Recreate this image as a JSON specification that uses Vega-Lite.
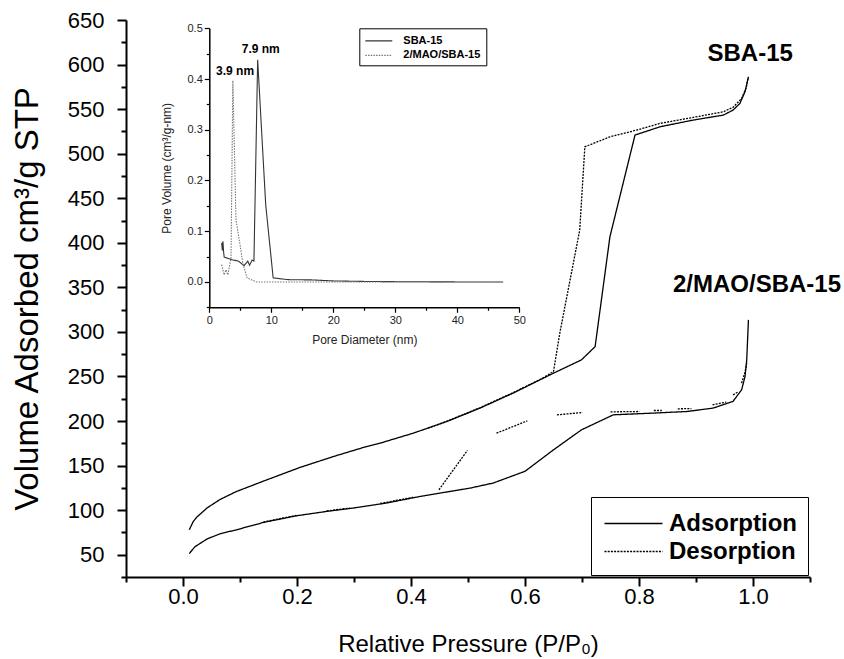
{
  "$schema": "https://vega.github.io/schema/vega-lite/v6.json",
  "width": 684,
  "height": 557,
  "autosize": {"type": "none"},
  "padding": {"left": 126, "top": 20, "right": 34, "bottom": 82},
  "background": "white",
  "config": {
    "font": "Liberation Sans",
    "view": {"stroke": null},
    "axis": {"grid": false, "domainColor": "black", "tickColor": "black", "labelColor": "black", "titleColor": "black", "labelFlush": false, "labelOverlap": false}
  },
  "datasets": {
    "isotherm": [
      {"curve": "SBA-15 ads", "branch": "Adsorption", "p": 0.011, "v": 78},
      {"curve": "SBA-15 ads", "branch": "Adsorption", "p": 0.018, "v": 87.3},
      {"curve": "SBA-15 ads", "branch": "Adsorption", "p": 0.024, "v": 92},
      {"curve": "SBA-15 ads", "branch": "Adsorption", "p": 0.042, "v": 102.4},
      {"curve": "SBA-15 ads", "branch": "Adsorption", "p": 0.065, "v": 112},
      {"curve": "SBA-15 ads", "branch": "Adsorption", "p": 0.094, "v": 121},
      {"curve": "SBA-15 ads", "branch": "Adsorption", "p": 0.147, "v": 134},
      {"curve": "SBA-15 ads", "branch": "Adsorption", "p": 0.205, "v": 147.9},
      {"curve": "SBA-15 ads", "branch": "Adsorption", "p": 0.264, "v": 160.2},
      {"curve": "SBA-15 ads", "branch": "Adsorption", "p": 0.322, "v": 171.4},
      {"curve": "SBA-15 ads", "branch": "Adsorption", "p": 0.346, "v": 175.2},
      {"curve": "SBA-15 ads", "branch": "Adsorption", "p": 0.404, "v": 186.4},
      {"curve": "SBA-15 ads", "branch": "Adsorption", "p": 0.463, "v": 199.5},
      {"curve": "SBA-15 ads", "branch": "Adsorption", "p": 0.521, "v": 214.5},
      {"curve": "SBA-15 ads", "branch": "Adsorption", "p": 0.579, "v": 231.3},
      {"curve": "SBA-15 ads", "branch": "Adsorption", "p": 0.650, "v": 253.7},
      {"curve": "SBA-15 ads", "branch": "Adsorption", "p": 0.699, "v": 268.6},
      {"curve": "SBA-15 ads", "branch": "Adsorption", "p": 0.723, "v": 283.5},
      {"curve": "SBA-15 ads", "branch": "Adsorption", "p": 0.749, "v": 406.8},
      {"curve": "SBA-15 ads", "branch": "Adsorption", "p": 0.793, "v": 520.9},
      {"curve": "SBA-15 ads", "branch": "Adsorption", "p": 0.837, "v": 530.2},
      {"curve": "SBA-15 ads", "branch": "Adsorption", "p": 0.895, "v": 537.7},
      {"curve": "SBA-15 ads", "branch": "Adsorption", "p": 0.948, "v": 543.3},
      {"curve": "SBA-15 ads", "branch": "Adsorption", "p": 0.965, "v": 548.9},
      {"curve": "SBA-15 ads", "branch": "Adsorption", "p": 0.977, "v": 556.4},
      {"curve": "SBA-15 ads", "branch": "Adsorption", "p": 0.986, "v": 569.4},
      {"curve": "SBA-15 ads", "branch": "Adsorption", "p": 0.992, "v": 586.2},

      {"curve": "SBA-15 des", "branch": "Desorption", "p": 0.430, "v": 192},
      {"curve": "SBA-15 des", "branch": "Desorption", "p": 0.463, "v": 199.8},
      {"curve": "SBA-15 des", "branch": "Desorption", "p": 0.521, "v": 214.9},
      {"curve": "SBA-15 des", "branch": "Desorption", "p": 0.579, "v": 231.8},
      {"curve": "SBA-15 des", "branch": "Desorption", "p": 0.630, "v": 247.8},
      {"curve": "SBA-15 des", "branch": "Desorption", "p": 0.650, "v": 255.5},
      {"curve": "SBA-15 des", "branch": "Desorption", "p": 0.661, "v": 298.5},
      {"curve": "SBA-15 des", "branch": "Desorption", "p": 0.696, "v": 414.3},
      {"curve": "SBA-15 des", "branch": "Desorption", "p": 0.705, "v": 507.7},
      {"curve": "SBA-15 des", "branch": "Desorption", "p": 0.749, "v": 518.9},
      {"curve": "SBA-15 des", "branch": "Desorption", "p": 0.796, "v": 526.5},
      {"curve": "SBA-15 des", "branch": "Desorption", "p": 0.837, "v": 534},
      {"curve": "SBA-15 des", "branch": "Desorption", "p": 0.895, "v": 540.7},
      {"curve": "SBA-15 des", "branch": "Desorption", "p": 0.948, "v": 547},
      {"curve": "SBA-15 des", "branch": "Desorption", "p": 0.965, "v": 552},
      {"curve": "SBA-15 des", "branch": "Desorption", "p": 0.980, "v": 562},
      {"curve": "SBA-15 des", "branch": "Desorption", "p": 0.988, "v": 574},
      {"curve": "SBA-15 des", "branch": "Desorption", "p": 0.992, "v": 586.2},

      {"curve": "MAO ads", "branch": "Adsorption", "p": 0.011, "v": 51.3},
      {"curve": "MAO ads", "branch": "Adsorption", "p": 0.021, "v": 59},
      {"curve": "MAO ads", "branch": "Adsorption", "p": 0.042, "v": 67.6},
      {"curve": "MAO ads", "branch": "Adsorption", "p": 0.065, "v": 73.5},
      {"curve": "MAO ads", "branch": "Adsorption", "p": 0.094, "v": 78},
      {"curve": "MAO ads", "branch": "Adsorption", "p": 0.141, "v": 86.2},
      {"curve": "MAO ads", "branch": "Adsorption", "p": 0.199, "v": 93.7},
      {"curve": "MAO ads", "branch": "Adsorption", "p": 0.252, "v": 98.6},
      {"curve": "MAO ads", "branch": "Adsorption", "p": 0.299, "v": 102.4},
      {"curve": "MAO ads", "branch": "Adsorption", "p": 0.357, "v": 108},
      {"curve": "MAO ads", "branch": "Adsorption", "p": 0.416, "v": 115.4},
      {"curve": "MAO ads", "branch": "Adsorption", "p": 0.445, "v": 118.5},
      {"curve": "MAO ads", "branch": "Adsorption", "p": 0.504, "v": 124.8},
      {"curve": "MAO ads", "branch": "Adsorption", "p": 0.544, "v": 130.4},
      {"curve": "MAO ads", "branch": "Adsorption", "p": 0.600, "v": 143.6},
      {"curve": "MAO ads", "branch": "Adsorption", "p": 0.650, "v": 167.7},
      {"curve": "MAO ads", "branch": "Adsorption", "p": 0.699, "v": 190.1},
      {"curve": "MAO ads", "branch": "Adsorption", "p": 0.755, "v": 207},
      {"curve": "MAO ads", "branch": "Adsorption", "p": 0.825, "v": 208.9},
      {"curve": "MAO ads", "branch": "Adsorption", "p": 0.884, "v": 210.7},
      {"curve": "MAO ads", "branch": "Adsorption", "p": 0.930, "v": 214.5},
      {"curve": "MAO ads", "branch": "Adsorption", "p": 0.965, "v": 222.1},
      {"curve": "MAO ads", "branch": "Adsorption", "p": 0.980, "v": 235},
      {"curve": "MAO ads", "branch": "Adsorption", "p": 0.986, "v": 249.9},
      {"curve": "MAO ads", "branch": "Adsorption", "p": 0.989, "v": 268.6},
      {"curve": "MAO ads", "branch": "Adsorption", "p": 0.992, "v": 313.5},

      {"curve": "MAO des 1", "branch": "Desorption", "p": 0.141, "v": 86.7},
      {"curve": "MAO des 1", "branch": "Desorption", "p": 0.199, "v": 94.2},
      {"curve": "MAO des 2", "branch": "Desorption", "p": 0.252, "v": 99.1},
      {"curve": "MAO des 2", "branch": "Desorption", "p": 0.293, "v": 102.4},
      {"curve": "MAO des 3", "branch": "Desorption", "p": 0.346, "v": 107.5},
      {"curve": "MAO des 3", "branch": "Desorption", "p": 0.404, "v": 114.5},
      {"curve": "MAO des 4", "branch": "Desorption", "p": 0.449, "v": 122.9},
      {"curve": "MAO des 4", "branch": "Desorption", "p": 0.499, "v": 167},
      {"curve": "MAO des 5", "branch": "Desorption", "p": 0.550, "v": 186.4},
      {"curve": "MAO des 5", "branch": "Desorption", "p": 0.604, "v": 200.2},
      {"curve": "MAO des 6", "branch": "Desorption", "p": 0.656, "v": 207},
      {"curve": "MAO des 6", "branch": "Desorption", "p": 0.701, "v": 209.5},
      {"curve": "MAO des 7", "branch": "Desorption", "p": 0.750, "v": 210.3},
      {"curve": "MAO des 7", "branch": "Desorption", "p": 0.801, "v": 210.7},
      {"curve": "MAO des 8", "branch": "Desorption", "p": 0.826, "v": 211.8},
      {"curve": "MAO des 8", "branch": "Desorption", "p": 0.840, "v": 211.8},
      {"curve": "MAO des 9", "branch": "Desorption", "p": 0.868, "v": 213.7},
      {"curve": "MAO des 9", "branch": "Desorption", "p": 0.892, "v": 214},
      {"curve": "MAO des 10", "branch": "Desorption", "p": 0.929, "v": 218.2},
      {"curve": "MAO des 10", "branch": "Desorption", "p": 0.953, "v": 221.2},
      {"curve": "MAO des 11", "branch": "Desorption", "p": 0.965, "v": 229.4},
      {"curve": "MAO des 11", "branch": "Desorption", "p": 0.973, "v": 232.4},
      {"curve": "MAO des 12", "branch": "Desorption", "p": 0.980, "v": 242.5},
      {"curve": "MAO des 12", "branch": "Desorption", "p": 0.986, "v": 255},
      {"curve": "MAO des 12", "branch": "Desorption", "p": 0.989, "v": 265}
    ],
    "labels": [
      {"label": "SBA-15", "p": 0.995, "v": 611.7},
      {"label": "2/MAO/SBA-15", "p": 1.007, "v": 352.7}
    ],
    "psd": [
      {"sample": "SBA-15", "d": 2.0, "pv": 0.077},
      {"sample": "SBA-15", "d": 2.1, "pv": 0.062},
      {"sample": "SBA-15", "d": 2.2, "pv": 0.08},
      {"sample": "SBA-15", "d": 2.3, "pv": 0.06},
      {"sample": "SBA-15", "d": 2.4, "pv": 0.049},
      {"sample": "SBA-15", "d": 3.6, "pv": 0.044},
      {"sample": "SBA-15", "d": 4.7, "pv": 0.041},
      {"sample": "SBA-15", "d": 5.6, "pv": 0.032},
      {"sample": "SBA-15", "d": 6.2, "pv": 0.041},
      {"sample": "SBA-15", "d": 6.5, "pv": 0.033},
      {"sample": "SBA-15", "d": 6.9, "pv": 0.043},
      {"sample": "SBA-15", "d": 7.2, "pv": 0.041},
      {"sample": "SBA-15", "d": 7.8, "pv": 0.438},
      {"sample": "SBA-15", "d": 9.1, "pv": 0.152},
      {"sample": "SBA-15", "d": 10.3, "pv": 0.008},
      {"sample": "SBA-15", "d": 12.7, "pv": 0.0045},
      {"sample": "SBA-15", "d": 16.5, "pv": 0.004},
      {"sample": "SBA-15", "d": 20, "pv": 0.002},
      {"sample": "SBA-15", "d": 25, "pv": 0.001},
      {"sample": "SBA-15", "d": 30, "pv": 0.0005},
      {"sample": "SBA-15", "d": 40, "pv": 0},
      {"sample": "SBA-15", "d": 47.4, "pv": 0},
      {"sample": "2/MAO/SBA-15", "d": 2.0, "pv": 0.034},
      {"sample": "2/MAO/SBA-15", "d": 2.4, "pv": 0.014},
      {"sample": "2/MAO/SBA-15", "d": 2.7, "pv": 0.024},
      {"sample": "2/MAO/SBA-15", "d": 3.0, "pv": 0.014},
      {"sample": "2/MAO/SBA-15", "d": 3.3, "pv": 0.034},
      {"sample": "2/MAO/SBA-15", "d": 3.5, "pv": 0.047},
      {"sample": "2/MAO/SBA-15", "d": 3.8, "pv": 0.397},
      {"sample": "2/MAO/SBA-15", "d": 4.3, "pv": 0.123},
      {"sample": "2/MAO/SBA-15", "d": 5.0, "pv": 0.07},
      {"sample": "2/MAO/SBA-15", "d": 5.4, "pv": 0.037},
      {"sample": "2/MAO/SBA-15", "d": 6.1, "pv": 0.008},
      {"sample": "2/MAO/SBA-15", "d": 7.6, "pv": 0},
      {"sample": "2/MAO/SBA-15", "d": 20, "pv": 0},
      {"sample": "2/MAO/SBA-15", "d": 38, "pv": 0}
    ],
    "psdLabels": [
      {"label": "7.9 nm", "d": 8.3, "pv": 0.46},
      {"label": "3.9 nm", "d": 4.15, "pv": 0.415}
    ]
  },
  "layer": [
    {
      "layer": [
        {
          "data": {"name": "isotherm"},
          "mark": {"type": "line", "stroke": "black", "strokeWidth": 1.3},
          "encoding": {
            "x": {
              "field": "p", "type": "quantitative",
              "scale": {"domain": [-0.1, 1.1], "nice": false, "zero": false},
              "axis": {
                "orient": "bottom",
                "values": [-0.1, 0, 0.1, 0.2, 0.3, 0.4, 0.5, 0.6, 0.7, 0.8, 0.9, 1.0, 1.1],
                "format": ".1f",
                "labelExpr": "round(datum.value*10) % 2 === 0 ? datum.label : ''",
                "tickSize": {"condition": {"test": "round(datum.value*10) % 2 === 0", "value": 9}, "value": 5},
                "tickWidth": 2, "domainWidth": 2,
                "labelFontSize": 22, "labelPadding": 0,
                "title": "Relative Pressure (P/P₀)", "titleFontSize": 24, "titleFontWeight": "normal", "titlePadding": 25
              }
            },
            "y": {
              "field": "v", "type": "quantitative",
              "scale": {"domain": [25, 650], "nice": false, "zero": false},
              "axis": {
                "orient": "left",
                "values": [50, 100, 150, 200, 250, 300, 350, 400, 450, 500, 550, 600, 650],
                "tickSize": 9, "tickWidth": 2, "domainWidth": 2,
                "labelFontSize": 22, "labelPadding": 13,
                "title": "Volume Adsorbed cm³/g STP", "titleFontSize": 33, "titleFontWeight": "normal", "titlePadding": 23
              }
            },
            "detail": {"field": "curve"},
            "strokeDash": {
              "field": "branch", "type": "nominal",
              "scale": {"domain": ["Adsorption", "Desorption"], "range": [[1, 0], [2, 1.2]]},
              "legend": {
                "title": null, "orient": "none", "legendX": 465, "legendY": 477,
                "symbolType": "M-2,0H2", "symbolSize": 841, "symbolStrokeColor": "black", "symbolFillColor": "transparent", "symbolStrokeWidth": 1.5,
                "symbolOffset": 16,
                "labelFontSize": 24, "labelFontWeight": "bold", "labelColor": "black", "labelOffset": 20,
                "strokeColor": "black", "padding": 11, "rowPadding": 0, "cornerRadius": 0
              }
            }
          }
        },
        {
          "data": {"name": "labels"},
          "mark": {"type": "text", "fontSize": 24, "fontWeight": "bold", "align": "center", "baseline": "middle", "color": "black"},
          "encoding": {
            "x": {"field": "p", "type": "quantitative"},
            "y": {
              "field": "v", "type": "quantitative",
              "axis": {
                "orient": "left",
                "values": [25, 75, 125, 175, 225, 275, 325, 375, 425, 475, 525, 575, 625],
                "tickSize": 5, "tickWidth": 2, "domain": false, "labels": false, "title": null
              }
            },
            "text": {"field": "label"}
          }
        }
      ],
      "resolve": {"axis": {"y": "independent"}}
    },
    {
      "layer": [
        {
          "data": {"name": "psd"},
          "mark": {"type": "line", "strokeWidth": 1.1},
          "encoding": {
            "x": {
              "field": "d", "type": "quantitative",
              "scale": {"domain": [0, 50], "range": [83.3, 393.3], "nice": false, "zero": false},
              "axis": {
                "orient": "bottom", "offset": -269.7,
                "values": [0, 5, 10, 15, 20, 25, 30, 35, 40, 45, 50],
                "labelExpr": "datum.value % 10 === 0 ? datum.label : ''",
                "tickSize": {"condition": {"test": "datum.value % 10 === 0", "value": 5}, "value": 3},
                "tickWidth": 1.2, "domainWidth": 1.5,
                "labelFontSize": 11, "labelPadding": 2, "labelColor": "#222",
                "title": "Pore Diameter (nm)", "titleFontSize": 12, "titleFontWeight": "normal", "titlePadding": 9, "titleColor": "#222"
              }
            },
            "y": {
              "field": "pv", "type": "quantitative",
              "scale": {"domain": [-0.05, 0.5], "range": [287.3, 8.3], "nice": false, "zero": false},
              "axis": {
                "orient": "left", "offset": -83.3,
                "values": [-0.05, 0, 0.05, 0.1, 0.15, 0.2, 0.25, 0.3, 0.35, 0.4, 0.45, 0.5],
                "format": ".1f",
                "labelExpr": "round(datum.value*20) % 2 === 0 ? datum.label : ''",
                "tickSize": {"condition": {"test": "round(datum.value*20) % 2 === 0", "value": 5}, "value": 3},
                "tickWidth": 1.2, "domainWidth": 1.5,
                "labelFontSize": 11, "labelPadding": 2, "labelColor": "#222",
                "title": "Pore Volume (cm³/g-nm)", "titleFontSize": 12, "titleFontWeight": "normal", "titlePadding": 14, "titleColor": "#222"
              }
            },
            "color": {
              "field": "sample", "type": "nominal",
              "scale": {"domain": ["SBA-15", "2/MAO/SBA-15"], "range": ["#333333", "#777777"]},
              "legend": {
                "title": null, "orient": "none", "legendX": 233.3, "legendY": 8.3,
                "symbolType": "M-2,0H2", "symbolSize": 182, "symbolFillColor": "transparent", "symbolStrokeWidth": 1.3,
                "symbolOffset": 7,
                "labelFontSize": 11, "labelFontWeight": "bold", "labelColor": "black", "labelOffset": 17,
                "strokeColor": "black", "padding": 5, "rowPadding": 1.5, "cornerRadius": 0
              }
            },
            "strokeDash": {
              "field": "sample", "type": "nominal",
              "scale": {"domain": ["SBA-15", "2/MAO/SBA-15"], "range": [[1, 0], [1.5, 1.2]]},
              "legend": {
                "title": null, "orient": "none", "legendX": 233.3, "legendY": 8.3,
                "symbolType": "M-2,0H2", "symbolSize": 182, "symbolFillColor": "transparent", "symbolStrokeWidth": 1.3,
                "symbolOffset": 7,
                "labelFontSize": 11, "labelFontWeight": "bold", "labelColor": "black", "labelOffset": 17,
                "strokeColor": "black", "padding": 5, "rowPadding": 1.5, "cornerRadius": 0
              }
            }
          }
        },
        {
          "data": {"name": "psdLabels"},
          "mark": {"type": "text", "fontSize": 12, "fontWeight": "bold", "align": "center", "baseline": "middle", "color": "black"},
          "encoding": {
            "x": {"field": "d", "type": "quantitative"},
            "y": {"field": "pv", "type": "quantitative"},
            "text": {"field": "label"}
          }
        }
      ]
    }
  ],
  "resolve": {"scale": {"x": "independent", "y": "independent", "strokeDash": "independent", "color": "independent"}}
}
